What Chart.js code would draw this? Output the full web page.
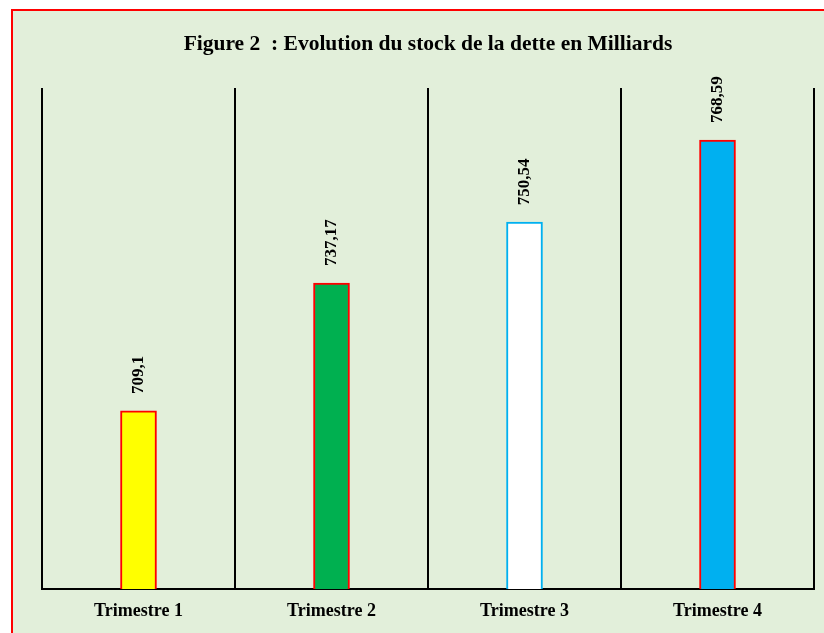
<!DOCTYPE html>
<html>
<head>
<meta charset="utf-8">
<script src="https://cdn.jsdelivr.net/npm/chart.js@4/dist/chart.umd.min.js"></script>
<style>
  html, body { margin: 0; padding: 0; background: #ffffff; }
  #wrap { position: absolute; left: 0; top: 0; width: 824px; height: 633px; }
</style>
</head>
<body>
<div id="wrap"><canvas id="c" width="824" height="633"></canvas></div>
<script>
const categories = ['Trimestre 1', 'Trimestre 2', 'Trimestre 3', 'Trimestre 4'];
const values = [709.1, 737.17, 750.54, 768.59];
const valueLabels = ['709,1', '737,17', '750,54', '768,59'];
const titleText = 'Figure 2  : Evolution du stock de la dette en Milliards';
const fillColors = ['#FFFF00', '#00B050', '#FFFFFF', '#00B0F0'];
const edgeColors = ['#FF0000', '#FF0000', '#00B0F0', '#FF0000'];

const SERIF = '"Liberation Serif", "Times New Roman", serif';

const cardPlugin = {
  id: 'card',
  beforeDraw(chart) {
    const ctx = chart.ctx;
    ctx.save();
    ctx.fillStyle = '#ffffff';
    ctx.fillRect(0, 0, chart.width, chart.height);
    ctx.fillStyle = '#E2EFDA';
    ctx.fillRect(12, 10, chart.width, chart.height);
    ctx.strokeStyle = '#FF0000';
    ctx.lineWidth = 2;
    ctx.strokeRect(12, 10, chart.width + 20, chart.height + 20);
    ctx.restore();
  }
};

const labelPlugin = {
  id: 'vlabels',
  afterDatasetsDraw(chart) {
    const ctx = chart.ctx;
    const meta = chart.getDatasetMeta(0);
    ctx.save();
    ctx.font = 'bold 17px ' + SERIF;
    ctx.fillStyle = '#000000';
    ctx.textAlign = 'left';
    ctx.textBaseline = 'middle';
    meta.data.forEach((bar, i) => {
      ctx.save();
      ctx.translate(bar.x, bar.y - 17);
      ctx.rotate(-Math.PI / 2);
      ctx.fillText(valueLabels[i], 0, 0);
      ctx.restore();
    });
    ctx.restore();
  }
};

new Chart(document.getElementById('c'), {
  type: 'bar',
  data: {
    labels: categories,
    datasets: [{
      data: values,
      backgroundColor: fillColors,
      borderColor: edgeColors,
      borderWidth: 2,
      borderSkipped: false,
      barThickness: 36
    }]
  },
  options: {
    responsive: false,
    animation: false,
    devicePixelRatio: 1,
    layout: { padding: { left: 42, right: 10, top: 0, bottom: 0 } },
    plugins: {
      legend: { display: false },
      tooltip: { enabled: false },
      title: {
        display: true,
        text: titleText,
        color: '#000000',
        font: { family: SERIF, size: 21.5, weight: 'bold', lineHeight: 1.2 },
        padding: { top: 32, bottom: 30.2 }
      }
    },
    scales: {
      x: {
        offset: true,
        grid: {
          display: true,
          offset: true,
          color: '#000000',
          lineWidth: 2,
          drawTicks: false,
          drawOnChartArea: true
        },
        border: { display: true, color: '#000000', width: 2 },
        ticks: {
          color: '#000000',
          padding: 12,
          font: { family: SERIF, size: 18, weight: 'bold' }
        },
        afterFit(scale) { scale.height = 44; }
      },
      y: {
        display: false,
        min: 670,
        max: 780
      }
    }
  },
  plugins: [cardPlugin, labelPlugin]
});
</script>
</body>
</html>
